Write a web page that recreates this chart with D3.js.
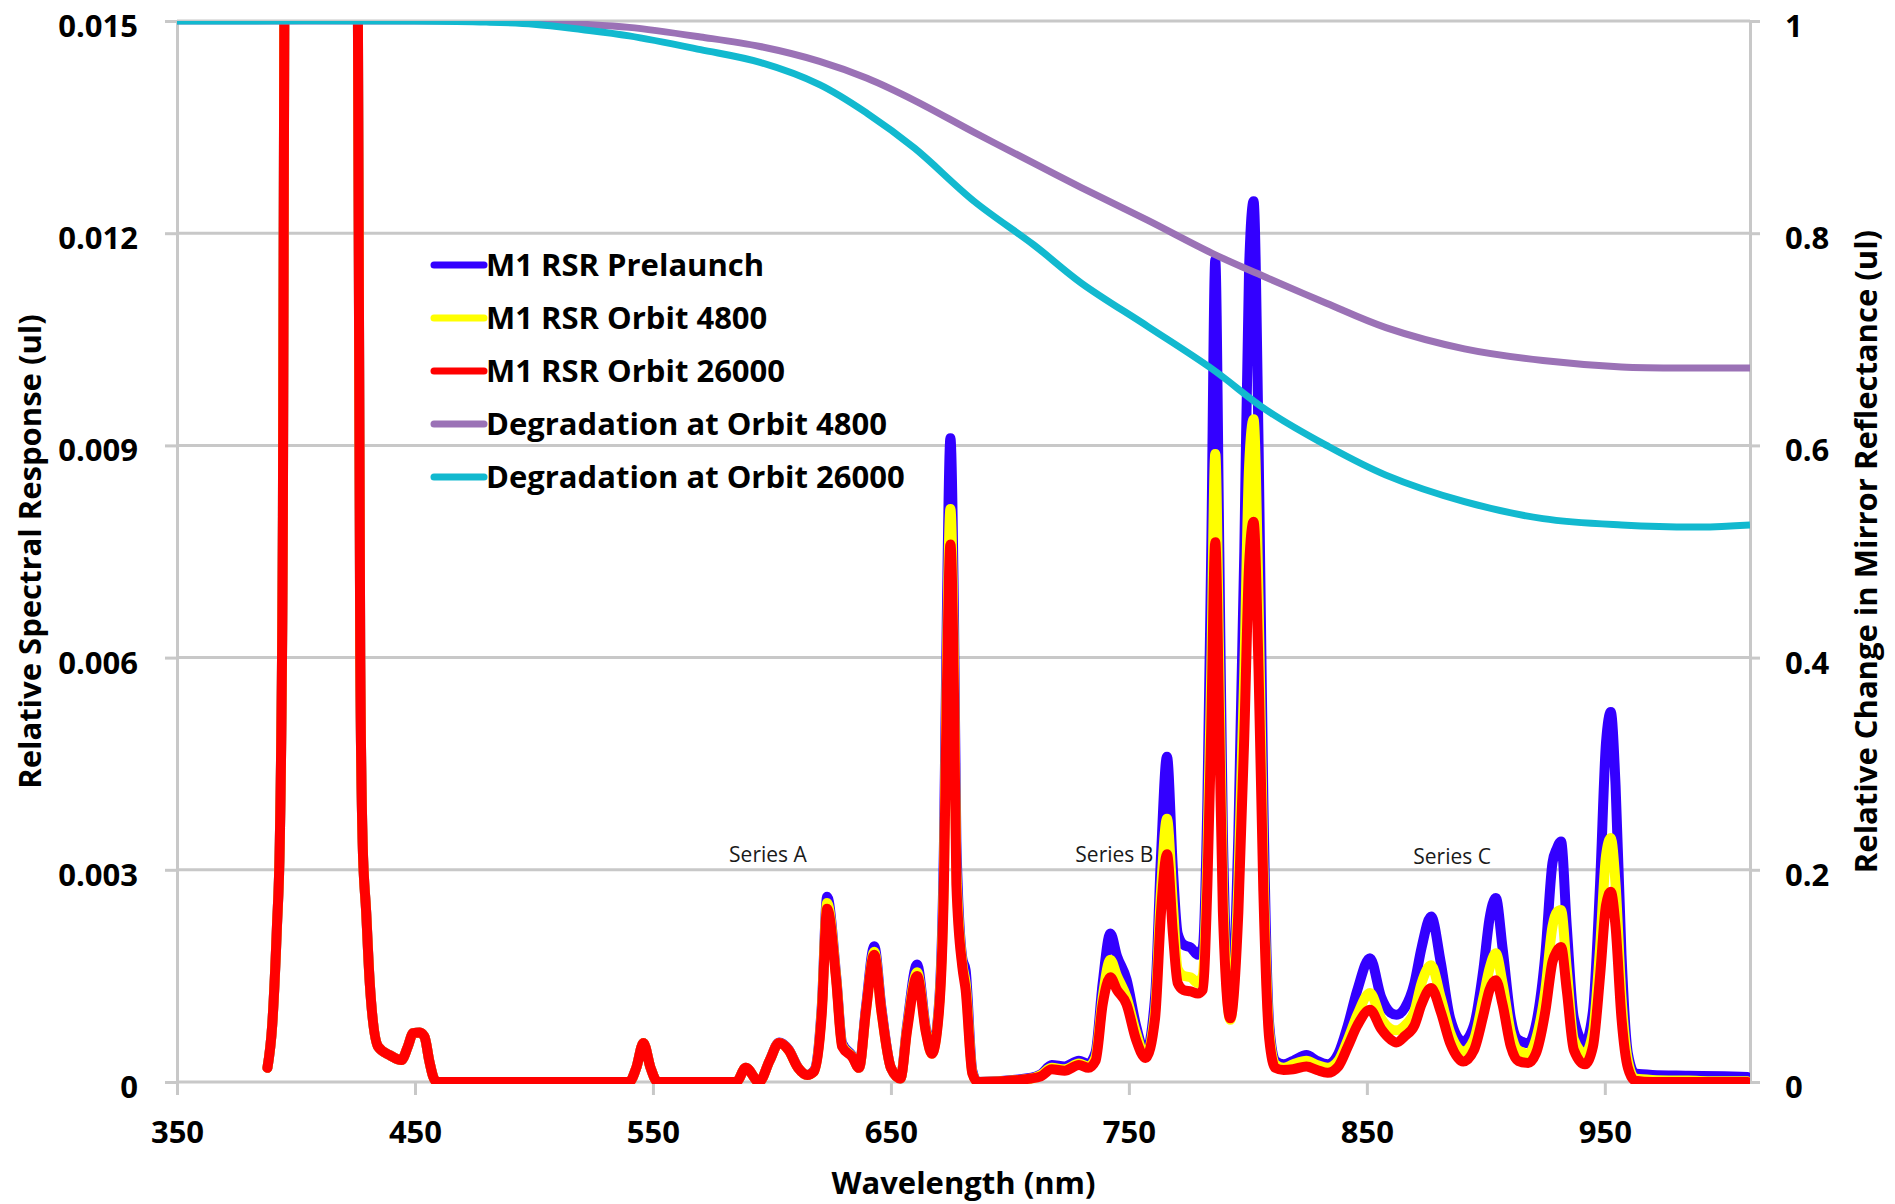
<!DOCTYPE html>
<meta charset="utf-8">

<!-- Load d3.js -->
<script src="https://d3js.org/d3.v7.min.js"></script>

<style>
  body { margin: 0; background: #fff; }
  text { font-family: "Open Sans", sans-serif; }
</style>

<div id="my_dataviz"></div>

<script>
// ---- data ----
// wavelength grid (nm) for the three RSR curves
const wavelength = [
  388, 390, 392, 393.2, 394.5, 395.5, 398, 410, 422, 425.5, 427, 428, 429.5, 431, 434.5, 439.4, 444.3, 447, 449.2, 452,
  454, 456, 457.6, 459, 540, 543, 546, 549, 552, 585, 589, 594.6, 599, 603, 607, 611, 614.8, 617.7,
  621, 623.2, 627, 629.5, 633.8, 636.6, 639.5, 643, 646, 650, 654, 656.8, 661, 664.7, 667.2, 670.2, 672.3, 673.5, 675,
  676.5, 677.5, 680, 681.4, 684.2, 686.5, 709, 713, 717.6, 723, 729, 733, 736, 739, 742.2, 745, 749, 753, 757,
  761, 763.5, 766, 768.5, 770.5, 773, 776, 779, 781, 783, 784.6, 786.3, 788, 789.5, 792.6, 796, 798.5, 800.5, 802.4,
  804.5, 806.5, 809, 811.5, 815, 819, 824.6, 829, 833.5, 838, 842, 846, 851.3, 856, 860, 862.4, 866, 870, 873, 877,
  881, 885, 890.5, 895, 899, 901.5, 904.2, 907, 910.5, 913.5, 917.8, 921, 925, 928, 929.8, 931.6, 934, 937, 941.6,
  945, 948, 950.5, 952.5, 954.5, 957, 959.7, 962.7, 970, 985, 1000, 1010
];

// M1 RSR Prelaunch
const rsrPrelaunch = [
  0.0002, 0.0008, 0.0022, 0.0034, 0.008, 0.02, 0.03, 0.032, 0.03, 0.02, 0.006, 0.0034, 0.0024, 0.0014, 0.0005, 0.00038, 0.00031, 0.0005, 0.00069, 0.0007,
  0.00064, 0.0003, 0.00008, 0, 0, 0.0002, 0.00055, 0.0002, 0, 0, 0.0002, 0, 0.0003, 0.00056, 0.00046, 0.0002, 0.0001, 0.00016,
  0.0011, 0.00262, 0.0015, 0.00055, 0.00037, 0.0002, 0.00105, 0.00192, 0.00105, 0.0002, 0.00005, 0.0008, 0.00166, 0.00075, 0.00042, 0.0011, 0.0034, 0.0066, 0.0091,
  0.0066, 0.0034, 0.00175, 0.00158, 0.00016, 0, 0.00006, 0.00011, 0.00024, 0.00022, 0.0003, 0.00026, 0.00042, 0.0014, 0.0021, 0.00178, 0.00145, 0.0008, 0.0004,
  0.0012, 0.0032, 0.0046, 0.003, 0.0021, 0.00194, 0.0019, 0.0018, 0.0019, 0.004, 0.0075, 0.01162, 0.0075, 0.0035, 0.00095, 0.0035, 0.0075, 0.0115, 0.01245,
  0.009, 0.004, 0.0008, 0.0003, 0.00025, 0.0003, 0.00038, 0.0003, 0.00025, 0.0004, 0.0008, 0.0013, 0.00175, 0.0012, 0.00098, 0.00095, 0.00105, 0.0014, 0.0019, 0.00234,
  0.0017, 0.0009, 0.00057, 0.0008, 0.0016, 0.0023, 0.0026, 0.0019, 0.0009, 0.0006, 0.00055, 0.0008, 0.0018, 0.0031, 0.0033, 0.0034, 0.0022, 0.0009, 0.00055,
  0.001, 0.0028, 0.0048, 0.00523, 0.0042, 0.0018, 0.0004, 0.00012, 0.0001, 0.00009, 0.00008, 0.00007
];

// M1 RSR Orbit 4800
const rsrOrbit4800 = [
  0.0002, 0.0008, 0.0022, 0.0034, 0.008, 0.02, 0.03, 0.032, 0.03, 0.02, 0.006, 0.0034, 0.0024, 0.0014, 0.0005, 0.00038, 0.00031, 0.0005, 0.00069, 0.0007,
  0.00064, 0.0003, 0.00008, 0, 0, 0.0002, 0.00055, 0.0002, 0, 0, 0.0002, 0, 0.0003, 0.00055, 0.00045, 0.0002, 0.0001, 0.00015,
  0.00105, 0.00253, 0.00147, 0.00052, 0.00036, 0.0002, 0.001, 0.00184, 0.001, 0.0002, 0.00005, 0.00076, 0.00155, 0.00072, 0.0004, 0.00105, 0.003, 0.0059, 0.0081,
  0.0059, 0.003, 0.00168, 0.0014, 0.00013, 0, 0.00005, 0.0001, 0.0002, 0.00018, 0.00026, 0.00022, 0.00035, 0.0012, 0.00173, 0.0015, 0.0012, 0.0007, 0.00036,
  0.001, 0.0027, 0.00372, 0.0025, 0.0016, 0.0015, 0.00148, 0.0014, 0.0015, 0.0032, 0.0058, 0.00888, 0.0058, 0.0028, 0.00088, 0.0028, 0.0058, 0.0087, 0.00937,
  0.0068, 0.0031, 0.0007, 0.00025, 0.0002, 0.00025, 0.0003, 0.00024, 0.0002, 0.0003, 0.0006, 0.00095, 0.00126, 0.0009, 0.00075, 0.00073, 0.0008, 0.001, 0.0014, 0.00165,
  0.0012, 0.0007, 0.00043, 0.0006, 0.0012, 0.0016, 0.00182, 0.0014, 0.0007, 0.00045, 0.0004, 0.0006, 0.0013, 0.0022, 0.0024, 0.00243, 0.0016, 0.0006, 0.0004,
  0.0007, 0.0019, 0.0032, 0.00345, 0.0028, 0.0012, 0.0003, 0.00005, 0.00003, 0.00002, 0.00001, 0.00001
];

// M1 RSR Orbit 26000
const rsrOrbit26000 = [
  0.0002, 0.0008, 0.0022, 0.0034, 0.008, 0.02, 0.03, 0.032, 0.03, 0.02, 0.006, 0.0034, 0.0024, 0.0014, 0.0005, 0.00038, 0.00031, 0.0005, 0.00069, 0.0007,
  0.00064, 0.0003, 0.00008, 0, 0, 0.0002, 0.00055, 0.0002, 0, 0, 0.0002, 0, 0.0003, 0.00055, 0.00045, 0.0002, 0.0001, 0.00015,
  0.001, 0.00245, 0.00144, 0.0005, 0.00035, 0.0002, 0.001, 0.0018, 0.001, 0.0002, 0.00005, 0.00073, 0.0015, 0.0007, 0.0004, 0.001, 0.00285, 0.0055, 0.0076,
  0.0055, 0.0028, 0.00163, 0.0013, 0.00012, 0, 0.00005, 0.00008, 0.00018, 0.00016, 0.00024, 0.0002, 0.0003, 0.0011, 0.00148, 0.0013, 0.0011, 0.0006, 0.00034,
  0.0009, 0.0024, 0.00322, 0.0021, 0.0014, 0.0013, 0.00128, 0.00125, 0.0013, 0.0028, 0.005, 0.00763, 0.005, 0.0024, 0.0009, 0.0024, 0.0049, 0.0073, 0.00792,
  0.0058, 0.0027, 0.0006, 0.0002, 0.00017, 0.00018, 0.00022, 0.00017, 0.00013, 0.00022, 0.0005, 0.0008, 0.00102, 0.00075, 0.0006, 0.00056, 0.00065, 0.0008, 0.0011, 0.00133,
  0.001, 0.00055, 0.00029, 0.00045, 0.00095, 0.0013, 0.00144, 0.0011, 0.0005, 0.0003, 0.00027, 0.0004, 0.001, 0.0017, 0.00185, 0.00191, 0.0013, 0.00045, 0.00025,
  0.0005, 0.0015, 0.0025, 0.00269, 0.0022, 0.0009, 0.0002, 0.00002, 0, 0, 0, 0
];

// mirror degradation (right axis)
const degWavelength = [350, 450, 480, 500, 520, 540, 570, 595, 620, 640, 660, 685, 710, 730, 758, 785, 808, 833, 858, 891, 924, 957, 990, 1011];
const degOrbit4800  = [1, 1, 1, 0.999, 0.997, 0.994, 0.985, 0.976, 0.962, 0.946, 0.925, 0.895, 0.866, 0.843, 0.812, 0.781, 0.758, 0.734, 0.711, 0.691, 0.680, 0.674, 0.673, 0.673];
const degOrbit26000 = [1, 1, 0.999, 0.997, 0.992, 0.986, 0.973, 0.961, 0.940, 0.913, 0.880, 0.830, 0.789, 0.753, 0.712, 0.672, 0.633, 0.600, 0.572, 0.547, 0.531, 0.525, 0.523, 0.525];

// axes
const xTicks = [350, 450, 550, 650, 750, 850, 950];
const leftTicks = [0, 0.003, 0.006, 0.009, 0.012, 0.015];
const leftTickLabels = ["0", "0.003", "0.006", "0.009", "0.012", "0.015"];
const rightTicks = [0, 0.2, 0.4, 0.6, 0.8, 1];
const rightTickLabels = ["0", "0.2", "0.4", "0.6", "0.8", "1"];

const seriesNames = ["M1 RSR Prelaunch", "M1 RSR Orbit 4800", "M1 RSR Orbit 26000", "Degradation at Orbit 4800", "Degradation at Orbit 26000"];
const seriesColors = ["#3300ff", "#ffff00", "#ff0000", "#9b72b6", "#12b9cf"];

// annotations
const noteLabels = ["Series A", "Series B", "Series C"];
const noteWavelength = [582, 727.5, 869.5];
const noteValue = [0.00311, 0.00311, 0.00308];

// set the dimensions and margins of the graph
const margin = {top: 21, right: 145, bottom: 122, left: 177},
      width = 1895 - margin.left - margin.right,
      height = 1204 - margin.top - margin.bottom;

const svg = d3.select("#my_dataviz")
  .append("svg")
    .attr("width", 1895)
    .attr("height", 1204)
  .append("g")
    .attr("transform", `translate(${margin.left}, ${margin.top})`);

const x = d3.scaleLinear().domain([350, 1011]).range([0, width]);
const yL = d3.scaleLinear().domain([0, 0.015]).range([height, 0]);
const yR = d3.scaleLinear().domain([0, 1]).range([height, 0]);

const gridColor = "#c8c8c8";

// horizontal gridlines
svg.append("g")
  .selectAll("line")
  .data(leftTicks)
  .join("line")
    .attr("x1", 0)
    .attr("x2", width)
    .attr("y1", d => yL(d))
    .attr("y2", d => yL(d))
    .attr("stroke", gridColor)
    .attr("stroke-width", 3);

// left axis
const axL = svg.append("g")
  .call(d3.axisLeft(yL).tickValues(leftTicks).tickSize(12).tickSizeOuter(0).tickPadding(27)
    .tickFormat((d, i) => leftTickLabels[i]));

// right axis
const axR = svg.append("g")
  .attr("transform", `translate(${width}, 0)`)
  .call(d3.axisRight(yR).tickValues(rightTicks).tickSize(10).tickSizeOuter(0).tickPadding(25)
    .tickFormat((d, i) => rightTickLabels[i]));

// bottom axis
const axB = svg.append("g")
  .attr("transform", `translate(0, ${height})`)
  .call(d3.axisBottom(x).tickValues(xTicks).tickSize(13).tickSizeOuter(0).tickPadding(26)
    .tickFormat(d3.format("d")));

[axL, axR, axB].forEach(a => {
  a.select(".domain").attr("stroke", gridColor).attr("stroke-width", 3);
  a.selectAll(".tick line").attr("stroke", gridColor).attr("stroke-width", 3);
  a.selectAll(".tick text")
    .attr("fill", "#000")
    .style("font-family", "'Open Sans', sans-serif")
    .style("font-weight", "bold")
    .style("font-size", "31px");
});
axL.selectAll(".tick text").attr("dy", "0.5em");
axR.selectAll(".tick text").attr("dy", "0.5em");
axB.selectAll(".tick text").attr("dy", "0.71em");
axB.select(".domain").remove();

// clip to the plot area
svg.append("clipPath")
  .attr("id", "plotclip")
  .append("rect")
    .attr("x", 0)
    .attr("y", 0)
    .attr("width", width)
    .attr("height", height + 2);

const plot = svg.append("g").attr("clip-path", "url(#plotclip)");

const rsrLine = d3.line()
  .x(d => x(d[0]))
  .y(d => yL(d[1]))
  .curve(d3.curveMonotoneX);

const degLine = d3.line()
  .x(d => x(d[0]))
  .y(d => yR(d[1]))
  .curve(d3.curveCatmullRom.alpha(0.5));

const rsrSeries = [rsrPrelaunch, rsrOrbit4800, rsrOrbit26000];
rsrSeries.forEach((vals, i) => {
  plot.append("path")
    .datum(wavelength.map((w, j) => [w, vals[j]]))
    .attr("fill", "none")
    .attr("stroke", seriesColors[i])
    .attr("stroke-width", 10)
    .attr("stroke-linejoin", "round")
    .attr("stroke-linecap", "round")
    .attr("d", rsrLine);
});

const degSeries = [degOrbit4800, degOrbit26000];
degSeries.forEach((vals, i) => {
  plot.append("path")
    .datum(degWavelength.map((w, j) => [w, vals[j]]))
    .attr("fill", "none")
    .attr("stroke", seriesColors[3 + i])
    .attr("stroke-width", 7)
    .attr("stroke-linejoin", "round")
    .attr("d", degLine);
});

// series annotations
svg.append("g")
  .selectAll("text")
  .data(noteLabels)
  .join("text")
    .attr("x", (d, i) => x(noteWavelength[i]))
    .attr("y", (d, i) => yL(noteValue[i]))
    .attr("fill", "#1a1a1a")
    .style("font-size", "21px")
    .text(d => d);

// legend
const legend = svg.append("g")
  .attr("transform", `translate(${434 - margin.left}, ${265 - margin.top})`);

seriesNames.forEach((name, i) => {
  const row = legend.append("g").attr("transform", `translate(0, ${i * 53})`);
  row.append("line")
    .attr("x1", 0)
    .attr("x2", 50)
    .attr("stroke", seriesColors[i])
    .attr("stroke-width", 7)
    .attr("stroke-linecap", "round");
  row.append("text")
    .attr("x", 52)
    .attr("dy", "0.36em")
    .attr("fill", "#000")
    .style("font-weight", "bold")
    .style("font-size", "31px")
    .text(name);
});

// axis titles
svg.append("text")
  .attr("x", width / 2)
  .attr("y", 1194 - margin.top)
  .attr("text-anchor", "middle")
  .style("font-weight", "bold")
  .style("font-size", "31px")
  .text("Wavelength (nm)");

svg.append("text")
  .attr("transform", `translate(${41 - margin.left}, ${height / 2}) rotate(-90)`)
  .attr("text-anchor", "middle")
  .style("font-weight", "bold")
  .style("font-size", "31px")
  .text("Relative Spectral Response (ul)");

svg.append("text")
  .attr("transform", `translate(${1877 - margin.left}, ${height / 2}) rotate(-90)`)
  .attr("text-anchor", "middle")
  .style("font-weight", "bold")
  .style("font-size", "31px")
  .text("Relative Change in Mirror Reflectance (ul)");
</script>
